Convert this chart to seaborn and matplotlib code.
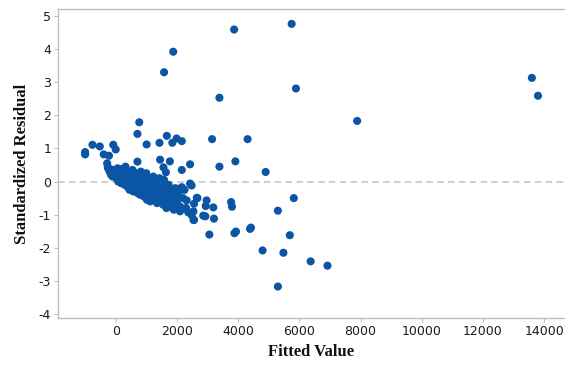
import matplotlib
matplotlib.use("Agg")
import matplotlib.pyplot as plt
import seaborn as sns
import pandas as pd

# Fitted values and standardized residuals
outlier_x = [3870, 5750, 5890, 3390, 7890, 1580, 1880, 13600, 13800]
outlier_y = [4.59, 4.76, 2.81, 2.53, 1.83, 3.30, 3.92, 3.13, 2.59]

upper_x = [3150, 4310, 2160, 2430, 2160, 3390, 3910, 4900, 770, 710, 1010, 1430,
           1670, 1850, 1990, 1450, 1770, 1560, 1640, 710, 140,
           -1000, -1000, -760, -520, -80, 0, -390, -220, -260, -130]
upper_y = [1.28, 1.28, 1.22, 0.52, 0.35, 0.45, 0.61, 0.29, 1.79, 1.44, 1.12, 1.17,
           1.38, 1.17, 1.30, 0.66, 0.61, 0.43, 0.28, 0.60, 0.38,
           0.89, 0.82, 1.11, 1.06, 1.11, 0.97, 0.82, 0.78, 0.45, 0.36]

lower_x = [5820, 5300, 5690, 4800, 5480, 6370, 6920, 5300,
           3060, 3880, 3930, 4390, 4420, 3770, 3800, 3190, 3210, 2970, 2940, 2860,
           2930, 2670, 2560, 2320, 2430, 2480, 2160, 2010, 2650, 2540, 2540, 1830,
           1880, 2100, 2370, 2480, 2560]
lower_y = [-0.50, -0.88, -1.62, -2.08, -2.15, -2.41, -2.54, -3.17,
           -1.60, -1.56, -1.51, -1.43, -1.39, -0.62, -0.76, -0.78, -1.12, -0.57, -0.74, -1.03,
           -1.05, -0.50, -0.67, -0.57, -0.06, -0.12, -0.17, -0.42, -0.49, -0.90, -1.16, -0.67,
           -0.78, -0.90, -0.93, -1.01, -1.16]

cluster_x = [-280, -250, -200, -150, -100, -50, 0, 30, 60, 80, 100, 120, 150, 180, 200,
             230, 250, 280, 300, 320,
             350, 380, 400, 420, 450, 480, 500, 520, 550, 580, 600, 620, 650, 680, 700,
             720, 750, 780, 800, 820, 850, 880, 900,
             920, 950, 980, 1000, 1020, 1050, 1080, 1100, 1130, 1150, 1180, 1200, 1230,
             1250, 1280, 1300, 1330, 1350, 1380, 1400, 1430, 1450, 1480,
             1520, 1550, 1580, 1600, 1630, 1660, 1700, 1730, 1760, 1800, 1850, 1900,
             1950, 2000, 2050, 2100, 2200, 2250, 2300]
cluster_y = [0.55, 0.40, 0.30, 0.20, 0.15, 0.35, 0.25, 0.10, 0.40, 0.00, 0.20, 0.05, 0.30,
             -0.05, 0.15, 0.35, 0.00, 0.20, -0.10, 0.45,
             0.10, -0.15, 0.30, 0.00, -0.25, 0.20, 0.05, -0.10, 0.35, -0.30, 0.15, -0.05,
             -0.20, 0.25, 0.05, -0.35, -0.15, 0.10, -0.40, 0.30, -0.05, -0.25, 0.15,
             -0.45, 0.00, -0.20, 0.25, -0.55, -0.10, 0.10, -0.35, -0.60, 0.05, -0.25,
             -0.45, 0.15, -0.10, -0.50, -0.30, 0.00, -0.65, -0.20, -0.40, 0.10, -0.55,
             -0.15,
             -0.35, -0.70, 0.05, -0.50, -0.20, -0.80, -0.40, -0.10, -0.60, -0.30, -0.50,
             -0.85, -0.20, -0.60, -0.35, -0.75, -0.50, -0.25, -0.80]

x_ticks = [0, 2000, 4000, 6000, 8000, 10000, 12000, 14000]
y_ticks = [-4, -3, -2, -1, 0, 1, 2, 3, 4, 5]

df = pd.DataFrame({
    "Fitted Value": outlier_x + upper_x + lower_x + cluster_x,
    "Standardized Residual": outlier_y + upper_y + lower_y + cluster_y,
})

sns.set_style("white")
fig = plt.figure(figsize=(5.65, 3.69), dpi=100)
ax = fig.add_axes([58 / 565, 1 - 318 / 369, 1 - 58 / 565, (318 - 9) / 369])

ax.axhline(0, color="#C6C6C6", lw=1.2, ls=(0, (4, 2.5)), zorder=1)
sns.scatterplot(data=df, x="Fitted Value", y="Standardized Residual", ax=ax,
                color="#0A55A4", s=34, edgecolor="none", linewidth=0, zorder=3)

ax.set_xlim(-1886, 14683)
ax.set_ylim(-4.12, 5.21)
ax.set_xticks(x_ticks)
ax.set_xticklabels([str(v) for v in x_ticks])
ax.set_yticks(y_ticks)
ax.set_yticklabels([str(v) for v in y_ticks])

for side in ["left", "bottom", "top"]:
    ax.spines[side].set_color("#BFBFBF")
    ax.spines[side].set_linewidth(1.0)
ax.spines["right"].set_visible(False)

ax.tick_params(axis="both", which="major", direction="out", length=3, width=0.8,
               color="#BFBFBF", labelsize=9, labelcolor="#1A1A1A", pad=2)
ax.tick_params(axis="x", bottom=True)
ax.tick_params(axis="y", left=True)

label_font = dict(family="Liberation Serif", weight="bold", size=12, color="#111111")
ax.set_xlabel("Fitted Value", labelpad=4, **label_font)
ax.set_ylabel("Standardized Residual", labelpad=6, **label_font)

fig.savefig("out.png", dpi=100)
